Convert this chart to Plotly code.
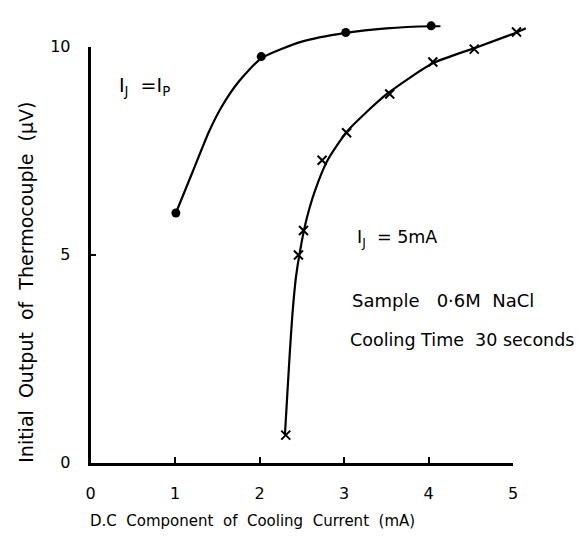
import plotly.graph_objects as go

# Measured points, I_J = I_P (filled dots)
dots_x = [1.01, 2.02, 3.02, 4.03]
dots_y = [6.00, 9.76, 10.34, 10.50]

# Smooth curve through the I_J = I_P points
curve1_x = [1.01, 1.20, 1.40, 1.55, 1.75, 2.02, 2.50, 3.02, 3.50, 4.03, 4.14]
curve1_y = [6.00, 6.95, 7.95, 8.55, 9.15, 9.72, 10.12, 10.33, 10.44, 10.49, 10.49]

# Measured points, I_J = 5 mA (crosses)
cross_x = [2.31, 2.46, 2.52, 2.74, 3.03, 3.54, 4.05, 4.54, 5.04]
cross_y = [0.66, 4.99, 5.58, 7.27, 7.93, 8.86, 9.63, 9.94, 10.35]

# Smooth curve through the I_J = 5 mA points
curve2_x = [2.30, 2.33, 2.36, 2.39, 2.43, 2.48, 2.55, 2.65, 2.80, 3.04, 3.50, 4.05, 4.55, 5.04, 5.15]
curve2_y = [0.66, 1.70, 2.71, 3.60, 4.45, 5.10, 5.80, 6.50, 7.25, 7.97, 8.85, 9.60, 9.97, 10.34, 10.44]

x_ticks = [0, 1, 2, 3, 4, 5]
y_ticks = [0, 5, 10]

W, H = 583, 545
FONT = "DejaVu Sans"

# pixel layout of the framed axes
X0_PX, X_UNIT = 87, 86.0
Y0_PX, Y_UNIT = 470, 43.1


def px_to_x(px):
    return (px - X0_PX) / X_UNIT


def py_to_y(py):
    return (Y0_PX - py) / Y_UNIT


fig = go.Figure()

line_style = dict(color="black", width=2.2, shape="spline", smoothing=0.6)
fig.add_trace(go.Scatter(x=curve1_x, y=curve1_y, mode="lines", line=line_style,
                         hoverinfo="skip"))
fig.add_trace(go.Scatter(x=curve2_x, y=curve2_y, mode="lines", line=line_style,
                         hoverinfo="skip"))
fig.add_trace(go.Scatter(x=dots_x, y=dots_y, mode="markers",
                         marker=dict(symbol="circle", size=9, color="black")))
fig.add_trace(go.Scatter(x=cross_x, y=cross_y, mode="markers",
                         marker=dict(symbol="x-thin", size=9,
                                     line=dict(color="black", width=2))))

# invisible axes that carry the data (wider than the frame so curves are not clipped)
dx0, dx1 = 40, 575
dy0, dy1 = 0, 505
fig.update_layout(
    xaxis=dict(domain=[dx0 / W, dx1 / W], range=[px_to_x(dx0), px_to_x(dx1)],
               visible=False, showgrid=False, zeroline=False),
    yaxis=dict(domain=[1 - dy1 / H, 1 - dy0 / H], range=[py_to_y(dy1), py_to_y(dy0)],
               visible=False, showgrid=False, zeroline=False),
)

# framed axes with ticks at 0..5 and 0..10
axis_common = dict(showline=True, linecolor="black", linewidth=2.5,
                   ticks="inside", ticklen=6, tickwidth=2, tickcolor="black",
                   showgrid=False, zeroline=False,
                   tickfont=dict(family=FONT, size=16, color="black"))
fig.update_layout(
    xaxis2=dict(domain=[X0_PX / W, (X0_PX + 5 * X_UNIT) / W], range=[0, 5],
                tickvals=x_ticks, ticktext=[str(v) for v in x_ticks],
                anchor="y2", ticklabelstandoff=14, **axis_common),
    yaxis2=dict(domain=[1 - Y0_PX / H, 1 - (Y0_PX - 10 * Y_UNIT) / H], range=[0, 10],
                tickvals=y_ticks, ticktext=[str(v) for v in y_ticks],
                anchor="x2", ticklabelstandoff=14, **axis_common),
)
fig.add_trace(go.Scatter(x=[None], y=[None], xaxis="x2", yaxis="y2",
                         showlegend=False, hoverinfo="skip"))


def label(text, px, py, size=17, anchor="left", angle=0):
    fig.add_annotation(text=text, x=px / W, y=1 - py / H, xref="paper", yref="paper",
                       xanchor=anchor, yanchor="middle", showarrow=False,
                       textangle=angle, font=dict(family=FONT, size=size, color="black"))


label("I<sub>J</sub>  =I<sub>P</sub>", 114, 80, size=19)
label("I<sub>J</sub>  = 5mA", 356, 238, size=17.5)
label("Sample   0·6M  NaCl", 351, 302, size=18)
label("Cooling Time  30 seconds", 349, 343, size=17.5)
label("Initial  Output  of  Thermocouple  (μV)", 22, 283, size=19, anchor="center", angle=-90)
label("D.C  Component  of  Cooling  Current  (mA)", 252, 530, size=15, anchor="center")

fig.update_layout(
    width=W, height=H,
    margin=dict(l=0, r=0, t=0, b=0),
    showlegend=False,
    plot_bgcolor="rgba(0,0,0,0)", paper_bgcolor="white",
)

fig.write_html("out.html")
